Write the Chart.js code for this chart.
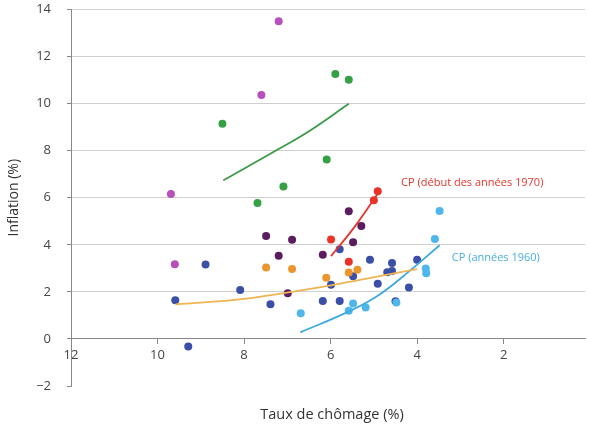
<!DOCTYPE html>
<html>
<head>
<meta charset="utf-8">
<script src="https://cdn.jsdelivr.net/npm/chart.js@4.4.1/dist/chart.umd.min.js"></script>
<style>
  html, body { margin: 0; padding: 0; background: #fff; }
  #wrap { width: 589px; height: 424px; }
</style>
</head>
<body>
<div id="wrap"><canvas id="phillips"></canvas></div>
<script>
// Scatter points (unemployment %, inflation %) per group
const magentaX = [7.20, 7.60, 9.69, 9.60];
const magentaY = [13.50, 10.37, 6.16, 3.17];
const greenX = [5.89, 5.58, 8.50, 6.09, 7.09, 7.69];
const greenY = [11.26, 11.01, 9.14, 7.63, 6.48, 5.78];
const redX = [4.91, 5.00, 5.99, 5.58];
const redY = [6.28, 5.89, 4.23, 3.28];
const purpleX = [5.58, 5.29, 7.49, 6.89, 5.48, 7.20, 6.18, 6.99];
const purpleY = [5.43, 4.80, 4.37, 4.22, 4.11, 3.54, 3.58, 1.94];
const orangeX = [7.49, 6.89, 5.58, 5.38, 6.10];
const orangeY = [3.04, 2.97, 2.82, 2.94, 2.60];
const navyX = [5.79, 5.09, 8.89, 5.48, 5.99, 4.91, 8.09, 9.59, 6.18, 5.79, 7.39, 9.29, 4.58, 4.00, 4.69, 4.58, 4.19, 4.50];
const navyY = [3.81, 3.37, 3.16, 2.66, 2.30, 2.35, 2.08, 1.64, 1.61, 1.61, 1.47, -0.32, 3.23, 3.37, 2.83, 2.89, 2.19, 1.60];
const skyX = [5.48, 5.58, 5.19, 6.69, 3.48, 3.59, 3.80, 3.79, 4.48];
const skyY = [1.51, 1.20, 1.34, 1.09, 5.44, 4.25, 2.99, 2.79, 1.55];

// Curves
const greenCurveX = [8.48, 7.18, 6.49, 5.58];
const greenCurveY = [6.74, 8.09, 8.84, 9.99];
const redCurveX = [5.99, 5.45, 4.89];
const redCurveY = [3.52, 4.75, 6.22];
const orangeCurveX = [9.58, 8.00, 6.50, 5.50, 4.00];
const orangeCurveY = [1.47, 1.70, 2.12, 2.45, 2.97];
const skyCurveX = [6.70, 5.60, 4.90, 4.20, 3.48];
const skyCurveY = [0.28, 1.15, 1.85, 2.85, 3.98];

// Axis ticks
const xTicks = [12, 10, 8, 6, 4, 2];
const yTicks = [-2, 0, 2, 4, 6, 8, 10, 12, 14];

const labels = [
  { text: "CP (début des années 1970)", x: 4.37, y: 6.62, color: "#e5352b" },
  { text: "CP (années 1960)", x: 3.20, y: 3.43, color: "#49aee0" }
];

function pts(xs, ys) {
  return xs.map((x, i) => ({ x: x, y: ys[i] }));
}

function dots(data, color) {
  return { type: "scatter", data: data, backgroundColor: color, borderWidth: 0, pointRadius: 4, pointHoverRadius: 4 };
}

function curve(data, color) {
  return { type: "line", data: data, showLine: true, borderColor: color, borderWidth: 1.8, pointRadius: 0, tension: 0.4, fill: false };
}

const textPlugin = {
  id: "texts",
  afterDraw(chart) {
    const c = chart.ctx;
    const xs = chart.scales.x, ys = chart.scales.y;
    c.save();
    c.font = "11px 'Open Sans'";
    c.textAlign = "left";
    c.textBaseline = "middle";
    labels.forEach(l => {
      c.fillStyle = l.color;
      c.fillText(l.text, xs.getPixelForValue(l.x), ys.getPixelForValue(l.y));
    });
    c.font = "14.5px 'Open Sans'";
    c.fillStyle = "#333";
    c.textAlign = "center";
    c.fillText("Taux de chômage (%)", 332, 415);
    c.restore();
  }
};

new Chart(document.getElementById("phillips"), {
  type: "scatter",
  data: {
    datasets: [
      curve(pts(greenCurveX, greenCurveY), "#3c9b48"),
      curve(pts(redCurveX, redCurveY), "#e5352b"),
      curve(pts(orangeCurveX, orangeCurveY), "#eeb553"),
      curve(pts(skyCurveX, skyCurveY), "#3ea9e0"),
      dots(pts(skyX, skyY), "#4eb6ea"),
      dots(pts(magentaX, magentaY), "#b84fbb"),
      dots(pts(greenX, greenY), "#36a045"),
      dots(pts(redX, redY), "#ea3226"),
      dots(pts(orangeX, orangeY), "#ea962f"),
      dots(pts(purpleX, purpleY), "#5c1d5e"),
      dots(pts(navyX, navyY), "#3c4fa6")
    ]
  },
  options: {
    responsive: true,
    maintainAspectRatio: false,
    animation: false,
    layout: { padding: { top: 9.5, right: 0, bottom: 38, left: 0 } },
    plugins: { legend: { display: false }, tooltip: { enabled: false } },
    scales: {
      x: {
        type: "linear",
        position: { y: 0 },
        min: 0.12,
        max: 12,
        reverse: true,
        afterBuildTicks: s => { s.ticks = xTicks.map(v => ({ value: v })); },
        afterFit: s => { s.paddingLeft = 0; s.paddingRight = 0; },
        ticks: {
          color: "#444",
          font: { family: "Open Sans", size: 13 },
          padding: 4,
          maxRotation: 0
        },
        grid: { drawOnChartArea: false, tickLength: 5, tickColor: "#888" },
        border: { color: "#888", width: 1 }
      },
      y: {
        min: -2,
        max: 14,
        afterBuildTicks: s => { s.ticks = yTicks.map(v => ({ value: v })); },
        afterFit: s => { s.width = 71; s.paddingTop = 6; s.paddingBottom = 6; },
        ticks: {
          callback: v => String(v).replace("-", "\u2212"),
          color: "#444",
          font: { family: "Open Sans", size: 13 },
          padding: 16
        },
        grid: {
          color: c => (c.tick && c.tick.value > 0 ? "#cfcfcf" : "rgba(0,0,0,0)"),
          tickLength: 4,
          tickColor: "#888"
        },
        border: { color: "#888", width: 1 },
        title: {
          display: true,
          text: "Inflation (%)",
          color: "#333",
          font: { family: "Open Sans", size: 14 },
          padding: { top: 6, bottom: 0 }
        }
      }
    }
  },
  plugins: [textPlugin]
});
</script>
</body>
</html>
